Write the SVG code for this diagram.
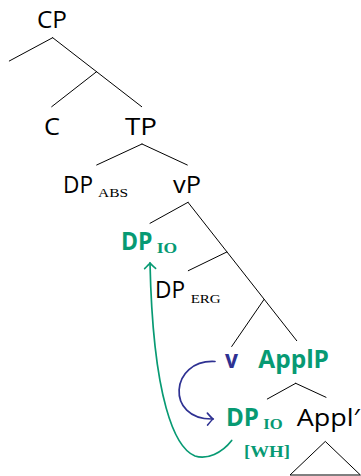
<svg xmlns="http://www.w3.org/2000/svg" width="361" height="476" viewBox="0 0 361 476">
<style>
.lbl{font-family:"Open Sans","DejaVu Sans",sans-serif;font-size:24.5px;fill:#000}
.b{font-weight:bold}
.g{fill:#079a73}
.bl{fill:#2e3192}
.sub{font-family:"Liberation Serif",serif;font-size:13.5px;fill:#000}
.subb{font-family:"Liberation Serif",serif;font-size:14.5px;font-weight:bold;fill:#079a73}
.edge{stroke:#000;stroke-width:1;fill:none;stroke-linecap:round}
.mv{fill:none;stroke-width:1.7;stroke-linecap:round}
</style>
<defs>
<marker id="ag" markerUnits="userSpaceOnUse" markerWidth="14" markerHeight="14" refX="0" refY="0" viewBox="-7 -7 14 14" orient="auto">
<path d="M-5.5,-5.5 Q-1.5,-1.2 0,0 Q-1.5,1.2 -5.5,5.5" fill="none" stroke="#079a73" stroke-width="1.6" stroke-linecap="round"/>
</marker>
<marker id="ab" markerUnits="userSpaceOnUse" markerWidth="14" markerHeight="14" refX="0" refY="0" viewBox="-7 -7 14 14" orient="auto">
<path d="M-5.5,-6 Q-1.5,-1.2 0,0 Q-1.5,1.2 -5.5,6" fill="none" stroke="#2e3192" stroke-width="1.6" stroke-linecap="round"/>
</marker>
</defs>

<g id="connectors">
<line class="edge" x1="52.7" y1="37.7" x2="9.3" y2="61"/>
<line class="edge" x1="52.7" y1="37.7" x2="141.7" y2="106.7"/>
<line class="edge" x1="96.7" y1="71.6" x2="51.7" y2="106.7"/>
<line class="edge" x1="142" y1="144" x2="96.7" y2="165"/>
<line class="edge" x1="142" y1="144" x2="187.3" y2="165"/>
<line class="edge" x1="188" y1="202.3" x2="150" y2="223.3"/>
<line class="edge" x1="188" y1="202.3" x2="296.7" y2="340.7"/>
<line class="edge" x1="226.8" y1="252" x2="188.3" y2="270.7"/>
<line class="edge" x1="264" y1="299.5" x2="231.7" y2="346.5"/>
<line class="edge" x1="295.7" y1="383.3" x2="267.3" y2="399"/>
<line class="edge" x1="295.7" y1="383.3" x2="326" y2="397.3"/>
<polygon class="edge" points="325,441.7 290,475 360,475"/>
<path class="mv" stroke="#2e3192" d="M215,361.5 C170,359 165,420 213,419" marker-end="url(#ab)"/>
<path class="mv" stroke="#079a73" d="M231.7,440.5 C222,453 207,460 195,456 C175,448 153,400 150,263" marker-end="url(#ag)"/>
</g>

<g id="CP"><text class="lbl" x="37" y="28.3" textLength="30" lengthAdjust="spacingAndGlyphs">CP</text></g>
<g id="C"><text class="lbl" x="44" y="135" textLength="16" lengthAdjust="spacingAndGlyphs">C</text></g>
<g id="TP"><text class="lbl" x="125" y="135" textLength="32" lengthAdjust="spacingAndGlyphs">TP</text></g>
<g id="DP_ABS"><text class="lbl" x="63" y="192.7" textLength="30" lengthAdjust="spacingAndGlyphs">DP</text><text class="sub" x="98" y="196.7" textLength="30" lengthAdjust="spacingAndGlyphs">ABS</text></g>
<g id="vP"><text class="lbl" x="173" y="192.7" textLength="28" lengthAdjust="spacingAndGlyphs">vP</text></g>
<g id="DP_IO_top"><text class="lbl b g" x="121" y="249.7" textLength="31.5" lengthAdjust="spacingAndGlyphs">DP</text><text class="subb" x="156.7" y="252.5" textLength="20.5" lengthAdjust="spacingAndGlyphs">IO</text></g>
<g id="DP_ERG"><text class="lbl" x="155" y="298.3" textLength="30" lengthAdjust="spacingAndGlyphs">DP</text><text class="sub" x="190.7" y="303.3" textLength="30" lengthAdjust="spacingAndGlyphs">ERG</text></g>
<g id="v"><text class="lbl b bl" x="225" y="368" textLength="13" lengthAdjust="spacingAndGlyphs">v</text></g>
<g id="ApplP"><text class="lbl b g" x="258.3" y="367.7" textLength="70.7" lengthAdjust="spacingAndGlyphs">ApplP</text></g>
<g id="DP_IO_low"><text class="lbl b g" x="226" y="426" textLength="33" lengthAdjust="spacingAndGlyphs">DP</text><text class="subb" x="263.3" y="429.3" textLength="19.4" lengthAdjust="spacingAndGlyphs">IO</text><text class="subb" x="244" y="456.8" style="font-size:17.5px" textLength="46" lengthAdjust="spacingAndGlyphs">[WH]</text></g>
<g id="Applbar"><text class="lbl" x="296.7" y="425.5" textLength="63" lengthAdjust="spacingAndGlyphs">Appl′</text></g>
</svg>
